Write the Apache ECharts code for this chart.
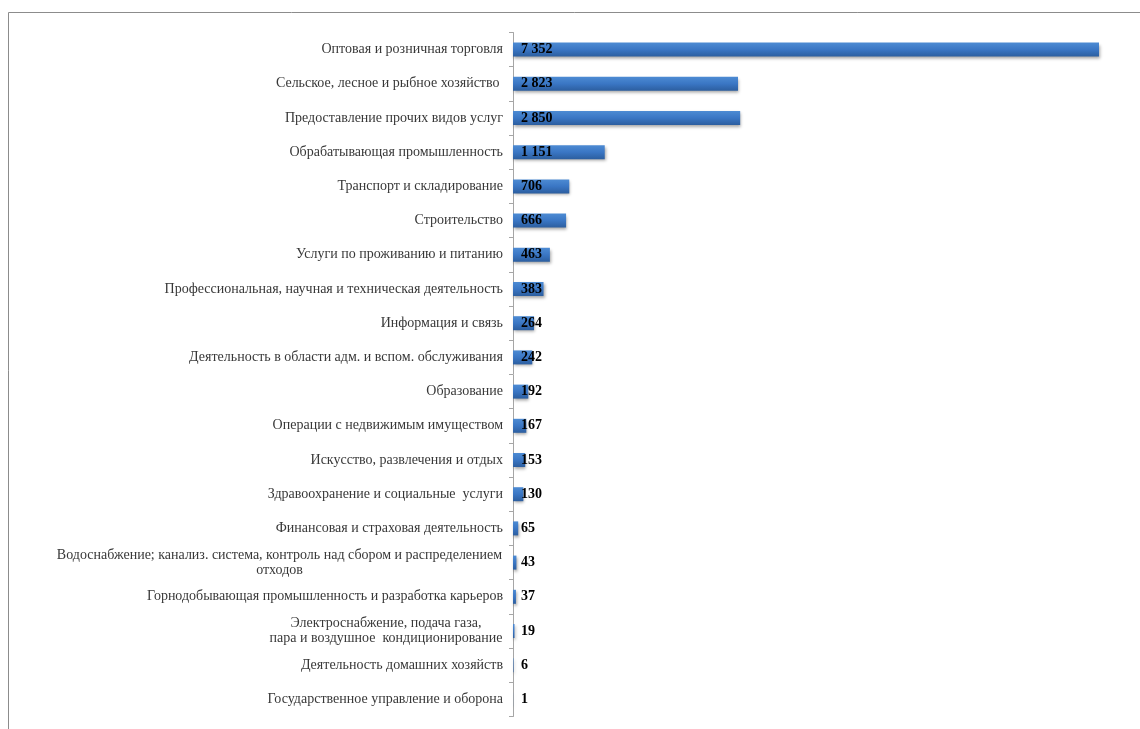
<!DOCTYPE html>
<html>
<head>
<meta charset="utf-8">
<script src="https://cdn.jsdelivr.net/npm/echarts@6/dist/echarts.min.js"></script>
<style>
  html, body { margin: 0; padding: 0; background: #fff; }
  #chart { width: 1140px; height: 729px; }
</style>
</head>
<body>
<div id="chart"></div>
<script>
// Industries (top to bottom) and number of entities in each
const categories = [
  'Оптовая и розничная торговля',
  'Сельское, лесное и рыбное хозяйство ',
  'Предоставление прочих видов услуг',
  'Обрабатывающая промышленность',
  'Транспорт и складирование',
  'Строительство',
  'Услуги по проживанию и питанию',
  'Профессиональная, научная и техническая деятельность',
  'Информация и связь',
  'Деятельность в области адм. и вспом. обслуживания',
  'Образование',
  'Операции с недвижимым имуществом',
  'Искусство, развлечения и отдых',
  'Здравоохранение и социальные  услуги',
  'Финансовая и страховая деятельность',
  'Водоснабжение; канализ. система, контроль над сбором и распределением\nотходов',
  'Горнодобывающая промышленность и разработка карьеров',
  'Электроснабжение, подача газа,\nпара и воздушное  кондиционирование',
  'Деятельность домашних хозяйств',
  'Государственное управление и оборона'
];
const values = [7352, 2823, 2850, 1151, 706, 666, 463, 383, 264, 242, 192, 167, 153, 130, 65, 43, 37, 19, 6, 1];

const LABEL_SIZE = 14;
const LABEL_FONT = LABEL_SIZE + "px 'Liberation Serif'";

// Width of the widest line of each wrapped label, so its lines can be centred
const ctx = document.createElement('canvas').getContext('2d');
ctx.font = LABEL_FONT;
const rich = {};
const wrapKey = {};
categories.forEach(function (c, i) {
  if (c.indexOf('\n') >= 0) {
    const w = Math.max.apply(null, c.split('\n').map(function (s) { return ctx.measureText(s).width; }));
    const key = 'w' + i;
    rich[key] = { width: Math.ceil(w) + 1, align: 'center', fontFamily: 'Liberation Serif', fontSize: LABEL_SIZE, color: '#383838', lineHeight: 15 };
    wrapKey[c] = key;
  }
});

function fmt(v) {
  return String(v).replace(/\B(?=(\d{3})+(?!\d))/g, ' ');
}

const chart = echarts.init(document.getElementById('chart'), null, { renderer: 'canvas' });
chart.setOption({
  animation: false,
  backgroundColor: '#ffffff',
  graphic: [{
    type: 'polyline',
    shape: { points: [[8.5, 729], [8.5, 12.5], [1140, 12.5]] },
    style: { stroke: '#8c8c8c', lineWidth: 1, fill: null },
    silent: true
  }],
  grid: { left: 513, top: 32.5, width: 586, height: 684, containLabel: false },
  xAxis: {
    type: 'value', min: 0, max: 7352, show: false
  },
  yAxis: {
    type: 'category',
    data: categories,
    inverse: true,
    axisLine: { show: true, lineStyle: { color: '#a6a6a6', width: 1 } },
    axisTick: { show: true, length: 4, lineStyle: { color: '#a6a6a6' } },
    axisLabel: {
      margin: 10,
      fontFamily: 'Liberation Serif',
      fontSize: LABEL_SIZE,
      color: '#383838',
      lineHeight: 15,
      rich: rich,
      formatter: function (v) {
        const key = wrapKey[v];
        if (!key) return v;
        return v.split('\n').map(function (s) { return '{' + key + '|' + s + '}'; }).join('\n');
      }
    },
    splitLine: { show: false }
  },
  series: [{
    type: 'bar',
    data: values,
    barWidth: 14,
    itemStyle: {
      color: new echarts.graphic.LinearGradient(0, 0, 0, 1, [
        { offset: 0, color: '#4d8bd3' },
        { offset: 0.5, color: '#3a76c4' },
        { offset: 1, color: '#2c5e9f' }
      ]),
      shadowColor: 'rgba(0,0,0,0.35)',
      shadowBlur: 3,
      shadowOffsetX: 1,
      shadowOffsetY: 2
    },
    label: {
      show: true,
      position: [8, '50%'],
      verticalAlign: 'middle',
      fontFamily: 'Liberation Serif',
      fontSize: 14,
      fontWeight: 'bold',
      color: '#000000',
      formatter: function (p) { return fmt(p.value); }
    }
  }]
});
</script>
</body>
</html>
